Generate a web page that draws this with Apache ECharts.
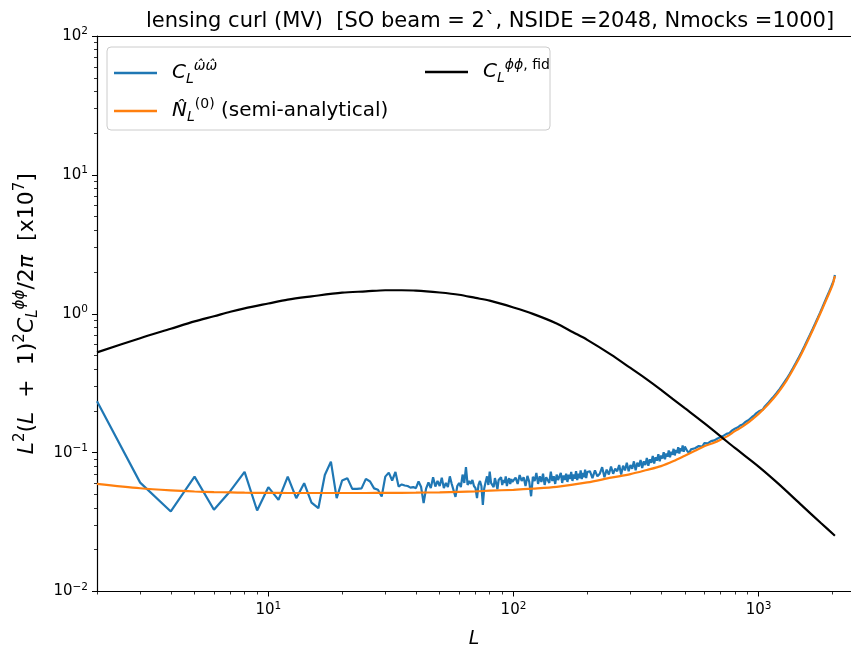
<!DOCTYPE html>
<html><head><meta charset="utf-8">
<script src="https://cdn.jsdelivr.net/npm/echarts@6/dist/echarts.min.js"></script>
<style>html,body{margin:0;padding:0;background:#fff}#c{width:851px;height:646px}</style>
</head><body><div id="c"></div>
<script>
const titleText = 'lensing curl (MV)  [SO beam = 2`, NSIDE =2048, Nmocks =1000]';
const xRange = [2, 2382];
const yRange = [0.01, 100];
const xMajorTicks = [10, 100, 1000];
const xMinorTicks = [2,3,4,5,6,7,8,9,20,30,40,50,60,70,80,90,200,300,400,500,600,700,800,900,2000];
const yMajorTicks = [0.01, 0.1, 1, 10, 100];
const yMinorTicks = [0.02,0.03,0.04,0.05,0.06,0.07,0.08,0.09,0.2,0.3,0.4,0.5,0.6,0.7,0.8,0.9,2,3,4,5,6,7,8,9,20,30,40,50,60,70,80,90];

// fiducial C_L^phiphi
const fidL = [2,3,4,5,6,7,8,10,12,15,20,25,30,35,40,50,60,70,80,100,120,150,175,200,250,300,350,400,500,600,700,800,1000,1200,1500,1800,2048];
const fidV = [0.527,0.667,0.780,0.881,0.959,1.033,1.094,1.186,1.265,1.334,1.419,1.449,1.476,1.476,1.469,1.422,1.370,1.300,1.242,1.109,0.998,0.851,0.736,0.649,0.508,0.407,0.337,0.283,0.209,0.163,0.131,0.108,0.0793,0.060,0.0417,0.0310,0.0252];

// semi-analytical N0
const n0L = [2,3,4,5,6,7,8,10,12,15,20,25,30,40,50,60,70,80,100,120,150,200,250,300,350,400,450,500,550,600,650,700,750,800,850,900,950,1000,1100,1200,1300,1400,1500,1600,1700,1800,1900,2000,2048];
const n0V = [0.0596,0.0554,0.0535,0.0525,0.052,0.0517,0.0515,0.0513,0.0512,0.0512,0.0512,0.0512,0.0513,0.0515,0.0518,0.0522,0.0526,0.0532,0.054,0.055,0.0567,0.061,0.066,0.070,0.075,0.080,0.087,0.095,0.103,0.111,0.117,0.124,0.132,0.143,0.152,0.163,0.176,0.19,0.225,0.27,0.33,0.413,0.52,0.658,0.828,1.038,1.294,1.60,1.87];

const blueSeg1 = {start: 2, step: 1};
const blueV1 = [0.234,0.0608,0.0377,0.0672,0.0388,0.053,0.0726,0.0383,0.0564,0.0457,0.0672,0.047,0.0602,0.0437,0.0398,0.069,0.0861,0.047,0.063,0.0655,0.0548,0.0548,0.0553,0.0647,0.062,0.0553,0.054,0.0483,0.0672,0.0718,0.063,0.0725,0.0569,0.059,
0.058,0.0575,0.056,0.0565,0.0555,0.062,0.0565,0.0433,0.055,0.061,0.0555,0.0665,0.057,0.0625,0.0575,0.066,0.0555,0.0605,0.0565,0.0675,0.0595,0.0615,0.048,0.0575,0.0605,0.0565,0.0695,0.0605,0.0785,0.0585,0.0625,0.0595,0.0635,0.0575,0.0555,0.047,0.0585,0.0625,0.0575,0.042,0.0555,0.0615,0.0675,0.0585,0.073,0.0605,0.0625,0.0565,0.0655,0.0605,0.0545,0.0635,0.0615,0.0665,0.0585,0.0635,0.0605,0.0675,0.0575,0.0625,0.0655,0.0595,0.0645,0.0615,0.0605];
const blueSeg2 = {start: 102, step: 2};
const blueV2 = [0.066,0.0595,0.069,0.0625,0.0665,0.0575,0.068,0.0615,0.0485,0.067,0.0625,0.0715,0.0595,0.0675,0.0615,0.0705,0.0585,0.0665,0.0685,0.0605,0.073,0.0625,0.0675,0.0595,0.0695,0.0635,0.0615,0.0715,0.0605,0.0685,0.0635,0.0705,0.0615,0.0695,0.0645,0.0725,0.0625,0.0695,0.065,0.0735,0.0635,0.0705,0.0655,0.0745,0.0645,0.0715,0.0665,0.0755,0.0655,0.0725];
const blueSeg3 = {start: 205, step: 5};
const blueV3 = [0.0735,0.0655,0.0745,0.0675,0.0705,0.0785,0.0665,0.0755,0.0695,0.0795,0.0705,0.0765,0.0735,0.0815,0.0695,0.0805,0.0745,0.0845,0.0735,0.0815,0.0765,0.0865,0.0745,0.0845,0.0795,0.0885,0.0775,0.0865,0.0815,0.0915,0.0805,0.0895,0.0845,0.0945,0.0835,0.0925,0.0875,0.0975,0.0865,0.0955,0.0905,0.1005,0.0895,0.0985,0.0935,0.1035,0.0925,0.1015,0.0965,0.1065,0.0955,0.1045,0.0995,0.1095,0.0985,0.1075,0.1025,0.1125,0.1015,0.1105];
const blueSeg4 = {start: 510, step: 10};
const blueV4 = [0.1035,0.0995,0.1055,0.1035,0.1075,0.106,0.1115,0.1085,0.1105,0.117,0.1135,0.1165,0.1145,0.121,0.1185,0.1225,0.1215,0.1265,0.1245,0.1295,0.1285,0.1325,0.1305,0.1365,0.1355,0.1385,0.1395,0.1445,0.1425,0.1485,0.1475,0.1515,0.1505,0.1565,0.1555,0.1595,0.1605,0.1655,0.1645,0.1695,0.1705,0.1745,0.1755,0.1805,0.1815,0.1855,0.1875,0.1925,0.1935,0.1975];
const blueSeg5 = {start: 1020, step: 20};
const blueV5 = [0.201,0.204,0.215,0.218,0.231,0.235,0.248,0.253,0.267,0.273,0.288,0.295,0.313,0.320,0.339,0.348,0.370,0.381,0.405,0.417,0.444,0.457,0.486,0.501,0.533,0.550,0.585,0.603,0.644,0.663,0.706,0.727,0.774,0.797,0.848,0.874,0.928,0.956,1.015,1.047,1.11,1.142,1.215,1.25,1.325,1.364,1.443,1.485,1.572,1.618,1.72,1.84];
const blueEnd = [[2048, 1.90]];

function segPairs(seg, vals) { return vals.map((v, i) => [seg.start + i * seg.step, v]); }
const blueData = [].concat(segPairs(blueSeg1, blueV1), segPairs(blueSeg2, blueV2), segPairs(blueSeg3, blueV3), segPairs(blueSeg4, blueV4), segPairs(blueSeg5, blueV5), blueEnd);
const fidData = fidL.map((l, i) => [l, fidV[i]]);
const n0Data = n0L.map((l, i) => [l, n0V[i]]);

const FF = 'DejaVu Sans';
function powLabel(v) {
  const e = Math.round(Math.log10(v));
  const es = (e < 0 ? '\u2212' : '') + Math.abs(e);
  return '{b|10}{e|' + es + '}';
}
const tickRich = {
  b: {fontFamily: FF, fontSize: 15, color: '#000'},
  e: {fontFamily: FF, fontSize: 10.5, color: '#000', padding: [0, 0, 9, 0]}
};
const legRich = {
  i: {fontFamily: FF, fontStyle: 'italic', fontSize: 20, color: '#000'},
  n: {fontFamily: FF, fontSize: 20, color: '#000'},
  sub: {fontFamily: FF, fontStyle: 'italic', fontSize: 14, color: '#000', padding: [12, 0, 0, 0]},
  sup: {fontFamily: FF, fontStyle: 'italic', fontSize: 14, color: '#000', padding: [0, 0, 14, 0]},
  supn: {fontFamily: FF, fontSize: 14, color: '#000', padding: [0, 0, 14, 0]},
  gap: {width: 10}
};
const names = {
  'Cww': '{gap|}{i|C}{sub|L}{sup|\u03C9\u0302\u03C9\u0302}',
  'N0': '{gap|}{i|N\u0302}{sub|L}{supn|(0)}{n| (semi-analytical)}',
  'Cfid': '{gap|}{i|C}{sub|L}{sup|\u03D5\u03D5}{supn|, fid}'
};
const yName = '{i|L}{s|2}{n|(}{i|L}{n|  +  1)}{s|2}{i|C}{b|L}{si|\u03D5\u03D5}{n|/2}{i|\u03C0}{n|  [x10}{s|7}{n|]}';

const chart = echarts.init(document.getElementById('c'), null, {renderer: 'canvas'});
chart.setOption({
  animation: false,
  backgroundColor: '#fff',
  title: {
    text: titleText, left: 485, top: 6, textAlign: 'center',
    textStyle: {fontFamily: FF, fontSize: 21, fontWeight: 'normal', color: '#000'}
  },
  grid: {left: 97, right: 0, top: 36, bottom: 54.5, show: false, containLabel: false, outerBoundsMode: 'none'},
  graphic: [{
    type: 'rect', z: 3, shape: {x: 107, y: 47, width: 443, height: 83, r: 4},
    style: {fill: 'rgba(255,255,255,0.8)', stroke: '#cccccc', lineWidth: 1}
  }],
  legend: [{
    data: ['Cww', 'N0'], orient: 'vertical', left: 114, top: 59, padding: 0, itemGap: 11,
    itemWidth: 43, itemHeight: 2.5, icon: 'rect', z: 5,
    formatter: n => names[n], textStyle: {rich: legRich, fontFamily: FF, fontSize: 20}
  }, {
    data: ['Cfid'], orient: 'vertical', left: 425, top: 58, padding: 0,
    itemWidth: 43, itemHeight: 2.5, icon: 'rect', z: 5,
    formatter: n => names[n], textStyle: {rich: legRich, fontFamily: FF, fontSize: 20}
  }],
  xAxis: [{
    type: 'log', logBase: 10, min: xRange[0], max: xRange[1],
    name: 'L', nameLocation: 'middle', nameGap: 38,
    nameTextStyle: {fontFamily: FF, fontStyle: 'italic', fontSize: 19, color: '#000'},
    axisLine: {show: true, lineStyle: {color: '#000', width: 1.2}},
    axisTick: {show: true, length: 5, lineStyle: {color: '#000', width: 1}, customValues: xMajorTicks},
    axisLabel: {show: true, margin: 9, customValues: xMajorTicks, formatter: powLabel, rich: tickRich},
    splitLine: {show: false}
  }, {
    type: 'log', logBase: 10, min: xRange[0], max: xRange[1], position: 'bottom',
    axisLine: {show: false},
    axisTick: {show: true, length: 3, lineStyle: {color: '#000', width: 0.8}, customValues: xMinorTicks},
    axisLabel: {show: false}, splitLine: {show: false}
  }, {
    type: 'log', logBase: 10, min: xRange[0], max: xRange[1], position: 'top',
    axisLine: {show: true, lineStyle: {color: '#000', width: 1.2}},
    axisTick: {show: false}, axisLabel: {show: false}, splitLine: {show: false}
  }],
  yAxis: [{
    type: 'log', logBase: 10, min: yRange[0], max: yRange[1],
    name: yName, nameLocation: 'middle', nameGap: 55, nameRotate: 90,
    nameTextStyle: {fontFamily: FF, fontSize: 22, color: '#000', rich: {
      i: {fontFamily: FF, fontStyle: 'italic', fontSize: 22, color: '#000'},
      n: {fontFamily: FF, fontSize: 22, color: '#000'},
      s: {fontFamily: FF, fontSize: 15, color: '#000', padding: [0, 0, 14, 0]},
      si: {fontFamily: FF, fontStyle: 'italic', fontSize: 15, color: '#000', padding: [0, 0, 14, 0]},
      b: {fontFamily: FF, fontStyle: 'italic', fontSize: 15, color: '#000', padding: [12, 0, 0, 0]}
    }},
    axisLine: {show: true, lineStyle: {color: '#000', width: 1.2}},
    axisTick: {show: true, length: 5, lineStyle: {color: '#000', width: 1}, customValues: yMajorTicks},
    axisLabel: {show: true, margin: 9, customValues: yMajorTicks, formatter: powLabel, rich: tickRich},
    splitLine: {show: false}
  }, {
    type: 'log', logBase: 10, min: yRange[0], max: yRange[1], position: 'left',
    axisLine: {show: false},
    axisTick: {show: true, length: 3, lineStyle: {color: '#000', width: 0.8}, customValues: yMinorTicks},
    axisLabel: {show: false}, splitLine: {show: false}
  }],
  series: [{
    name: 'Cww', type: 'line', data: blueData, showSymbol: false, symbol: 'none',
    lineStyle: {color: '#1f77b4', width: 2.2}, itemStyle: {color: '#1f77b4'}, z: 2
  }, {
    name: 'N0', type: 'line', data: n0Data, showSymbol: false, symbol: 'none', smooth: 0.3,
    lineStyle: {color: '#ff7f0e', width: 2.2}, itemStyle: {color: '#ff7f0e'}, z: 2
  }, {
    name: 'Cfid', type: 'line', data: fidData, showSymbol: false, symbol: 'none', smooth: 0.3,
    lineStyle: {color: '#000000', width: 2.2}, itemStyle: {color: '#000000'}, z: 2
  }]
});
</script></body></html>
